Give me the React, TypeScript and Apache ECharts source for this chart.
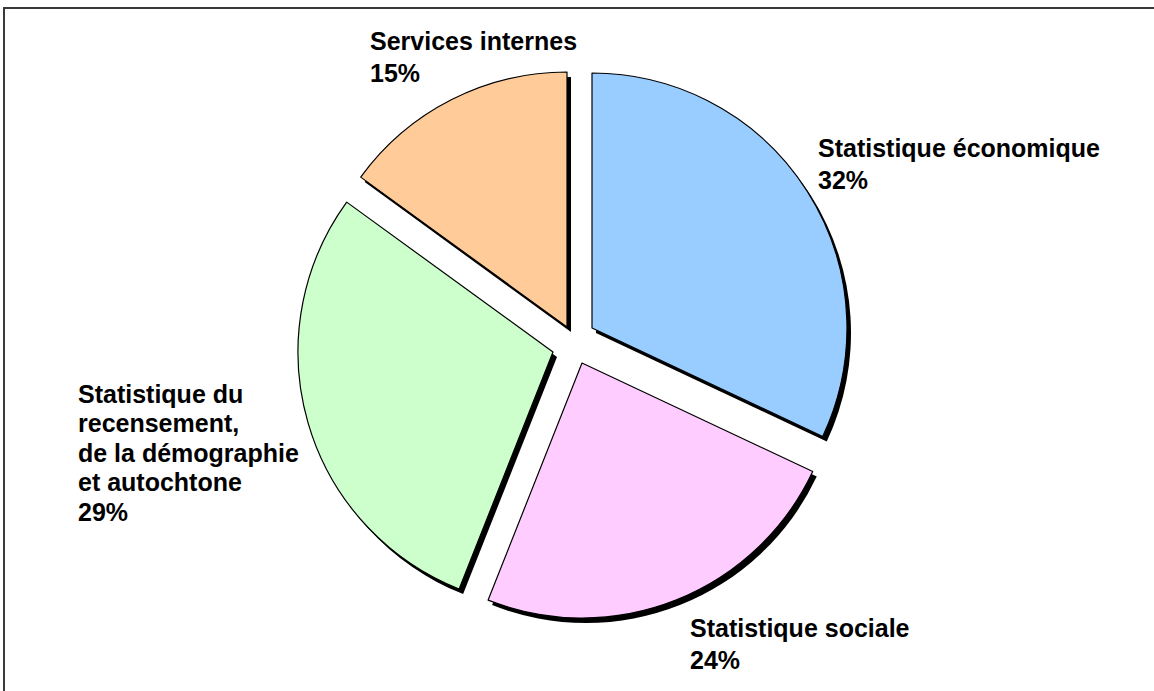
import React, { useEffect, useRef } from 'react';
import * as echarts from 'echarts';

// ---- data ----
const categories = [
  'Statistique économique',
  'Statistique sociale',
  'Statistique du recensement, de la démographie et autochtone',
  'Services internes',
];
const labelTexts = [
  'Statistique économique',
  'Statistique sociale',
  'Statistique du\nrecensement,\nde la démographie\net autochtone',
  'Services internes',
];
const values = [32, 24, 29, 15];
const colors = ['#99CCFF', '#FFCCFF', '#CCFFCC', '#FFCC99'];

// ---- layout (pixels) ----
const baseCenter = [574, 340];
const radius = 255;
const explode = [
  [18, -12],
  [8, 23],
  [-21, 12],
  [-7, -13],
];
const shadowOffset = [4, 5];
// [x, y(top), lineHeight]
const labelPos = [
  [818, 132, 32],
  [690, 612, 32],
  [78, 379, 29.5],
  [370, 25, 32],
];

const FONT = '"Liberation Sans", Arial, Helvetica, sans-serif';

export default function App() {
  const ref = useRef<HTMLDivElement>(null);

  useEffect(() => {
    if (!ref.current) return;
    const chart = echarts.init(ref.current, null, { renderer: 'svg' });

    const shadowSeries = values.map((_, i) => ({
      type: 'pie',
      silent: true,
      z: 1,
      center: [
        baseCenter[0] + explode[i][0] + shadowOffset[0],
        baseCenter[1] + explode[i][1] + shadowOffset[1],
      ],
      radius: radius,
      startAngle: 90,
      clockwise: true,
      avoidLabelOverlap: false,
      label: { show: false },
      labelLine: { show: false },
      emphasis: { disabled: true },
      data: values.map((v, j) => ({
        value: v,
        name: categories[j],
        itemStyle:
          j === i
            ? { color: '#000000', borderWidth: 0 }
            : { color: 'transparent', borderWidth: 0 },
      })),
    }));

    const mainSeries = values.map((_, i) => ({
      type: 'pie',
      silent: true,
      z: 2,
      center: [baseCenter[0] + explode[i][0], baseCenter[1] + explode[i][1]],
      radius: radius,
      startAngle: 90,
      clockwise: true,
      avoidLabelOverlap: false,
      emphasis: { disabled: true },
      labelLine: { show: false },
      labelLayout: () => ({
        x: labelPos[i][0],
        y: labelPos[i][1],
        align: 'left',
        verticalAlign: 'top',
      }),
      data: values.map((v, j) => ({
        value: v,
        name: categories[j],
        itemStyle:
          j === i
            ? { color: colors[j], borderColor: '#000000', borderWidth: 1.2 }
            : { color: 'transparent', borderWidth: 0 },
        label:
          j === i
            ? {
                show: true,
                position: 'outside',
                formatter: (p: any) =>
                  labelTexts[p.dataIndex] + '\n' + Math.round(p.percent) + '%',
                color: '#000000',
                fontFamily: FONT,
                fontWeight: 'bold',
                fontSize: 25,
                lineHeight: labelPos[i][2],
                align: 'left',
              }
            : { show: false },
      })),
    }));

    chart.setOption({
      animation: false,
      backgroundColor: '#ffffff',
      graphic: [
        {
          type: 'rect',
          silent: true,
          z: 0,
          shape: { x: 4, y: 8, width: 1400, height: 900 },
          style: { fill: 'none', stroke: '#3a3a3a', lineWidth: 2 },
        },
      ],
      series: [...shadowSeries, ...mainSeries],
    });

    return () => chart.dispose();
  }, []);

  return (
    <div
      ref={ref}
      style={{ position: 'absolute', left: 0, top: 0, width: 1154, height: 691 }}
    />
  );
}
